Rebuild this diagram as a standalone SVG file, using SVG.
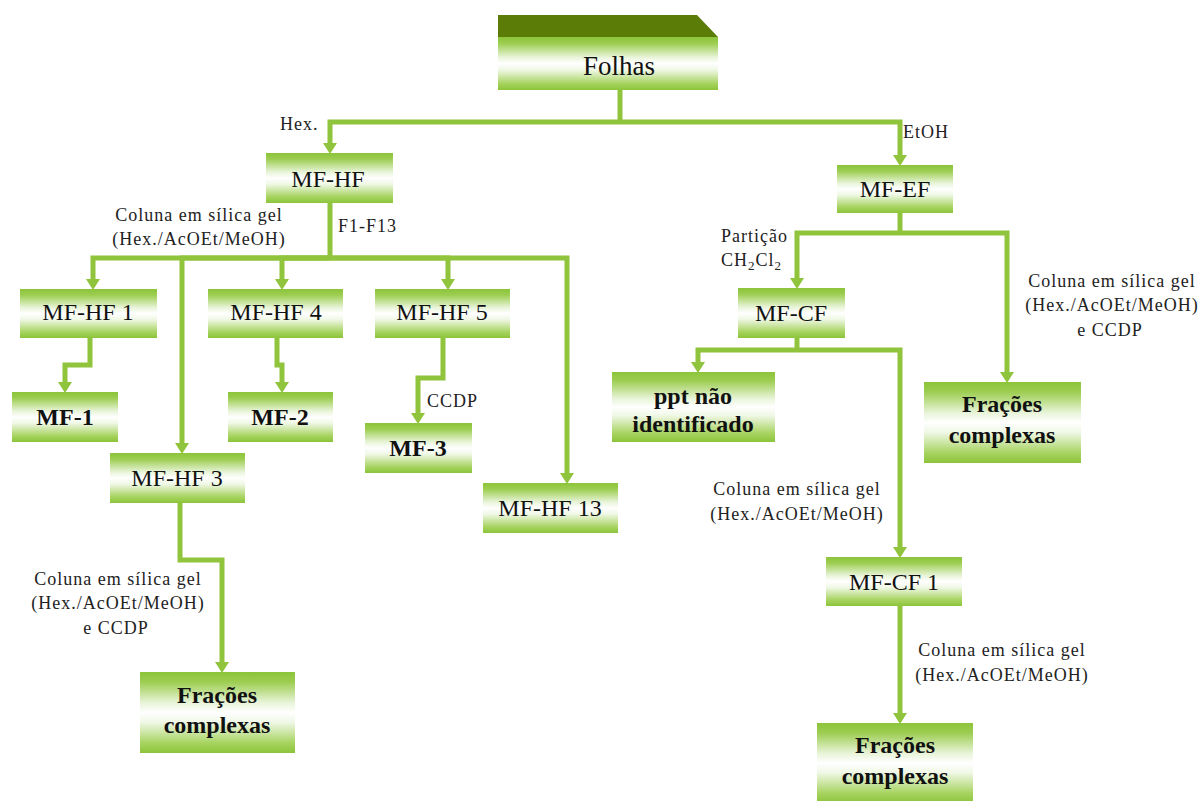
<svg xmlns="http://www.w3.org/2000/svg" width="1200" height="801" viewBox="0 0 1200 801">
<defs>
<linearGradient id="g" x1="0" y1="0" x2="0" y2="1">
<stop offset="0" stop-color="#8cc43a"/>
<stop offset="0.12" stop-color="#9ccd50"/>
<stop offset="0.38" stop-color="#e8f4d8"/>
<stop offset="0.5" stop-color="#ffffff"/>
<stop offset="0.62" stop-color="#f0f8e6"/>
<stop offset="0.88" stop-color="#a6d35f"/>
<stop offset="1" stop-color="#8cc43a"/>
</linearGradient>
<marker id="ah" markerUnits="userSpaceOnUse" viewBox="0 0 11 14" markerWidth="11" markerHeight="14" refX="0" refY="7" orient="auto">
<path d="M0,0 L11,7 L0,14 z" fill="#8fc43c"/>
</marker>
<style>
.ln{fill:none;stroke:#8fc43c;stroke-width:5;stroke-linejoin:miter}
.ar{marker-end:url(#ah)}
.box{fill:url(#g)}
.t{font-family:"Liberation Serif","Times New Roman",serif;font-size:24px;fill:#111;text-anchor:middle}
.b{font-weight:bold}
.lb{font-family:"Liberation Serif","Times New Roman",serif;font-size:18px;letter-spacing:1px;fill:#222}
.m{text-anchor:middle}
</style>
</defs>
<rect width="1200" height="801" fill="#ffffff"/>

<g id="connectors">
<path class="ln" d="M620,90 V122"/>
<path class="ln ar" d="M620,122 H330 V143"/>
<path class="ln ar" d="M620,122 H900 V155"/>
<path class="ln" d="M330,203 V258"/>
<path class="ln ar" d="M330,258 H93 V279"/>
<path class="ln ar" d="M330,258 H182 V443"/>
<path class="ln ar" d="M330,258 H282 V279"/>
<path class="ln ar" d="M330,258 H448 V279"/>
<path class="ln ar" d="M330,258 H567 V473"/>
<path class="ln ar" d="M90,338 V365 H65 V382"/>
<path class="ln ar" d="M277,338 V365 H282 V382"/>
<path class="ln ar" d="M443,338 V378 H418 V413"/>
<path class="ln ar" d="M180,503 V560 H222 V662"/>
<path class="ln" d="M900,213 V233"/>
<path class="ln ar" d="M900,233 H797 V278"/>
<path class="ln ar" d="M900,233 H1007 V372"/>
<path class="ln" d="M797,338 V350"/>
<path class="ln ar" d="M797,350 H698 V362"/>
<path class="ln ar" d="M797,350 H900 V547"/>
<path class="ln ar" d="M900,606 V713"/>
</g>

<g id="folhas">
<path d="M498,15 H697 L718,37 H498 Z" fill="#5c7c08"/>
<rect class="box" x="498" y="37" width="220" height="53"/>
<text class="t" x="619" y="75" style="font-size:27px">Folhas</text>
</g>

<g id="mf-hf"><rect class="box" x="266" y="153" width="127" height="50"/><text class="t" x="328" y="187">MF-HF</text></g>
<g id="mf-ef"><rect class="box" x="837" y="165" width="116" height="48"/><text class="t" x="895" y="197">MF-EF</text></g>
<g id="mf-hf1"><rect class="box" x="20" y="289" width="137" height="49"/><text class="t" x="88" y="320">MF-HF 1</text></g>
<g id="mf-hf4"><rect class="box" x="208" y="289" width="135" height="49"/><text class="t" x="276" y="320">MF-HF 4</text></g>
<g id="mf-hf5"><rect class="box" x="375" y="289" width="135" height="49"/><text class="t" x="442" y="320">MF-HF 5</text></g>
<g id="mf-1"><rect class="box" x="12" y="392" width="106" height="50"/><text class="t b" x="65" y="425">MF-1</text></g>
<g id="mf-2"><rect class="box" x="228" y="392" width="105" height="50"/><text class="t b" x="280" y="425">MF-2</text></g>
<g id="mf-3"><rect class="box" x="365" y="423" width="107" height="50"/><text class="t b" x="418" y="456">MF-3</text></g>
<g id="mf-hf3"><rect class="box" x="110" y="453" width="135" height="50"/><text class="t" x="177" y="486">MF-HF 3</text></g>
<g id="mf-hf13"><rect class="box" x="483" y="483" width="135" height="50"/><text class="t" x="550" y="516">MF-HF 13</text></g>
<g id="fracoes-left"><rect class="box" x="140" y="672" width="155" height="81"/><text class="t b" x="217" y="703">Frações</text><text class="t b" x="217" y="733">complexas</text></g>
<g id="mf-cf"><rect class="box" x="738" y="288" width="107" height="50"/><text class="t" x="791" y="321">MF-CF</text></g>
<g id="ppt"><rect class="box" x="612" y="372" width="163" height="70"/><text class="t b" x="693" y="404">ppt não</text><text class="t b" x="693" y="432">identificado</text></g>
<g id="fracoes-right"><rect class="box" x="924" y="382" width="157" height="81"/><text class="t b" x="1002" y="412">Frações</text><text class="t b" x="1002" y="443">complexas</text></g>
<g id="mf-cf1"><rect class="box" x="826" y="557" width="136" height="49"/><text class="t" x="894" y="590">MF-CF 1</text></g>
<g id="fracoes-bottom"><rect class="box" x="817" y="723" width="156" height="80"/><text class="t b" x="895" y="753">Frações</text><text class="t b" x="895" y="784">complexas</text></g>

<g id="labels">
<text class="lb" x="280" y="130">Hex.</text>
<text class="lb" x="903" y="138">EtOH</text>
<text class="lb" x="338" y="232">F1-F13</text>
<text class="lb m" x="199" y="221">Coluna em sílica gel</text>
<text class="lb m" x="199" y="245">(Hex./AcOEt/MeOH)</text>
<text class="lb" x="427" y="407">CCDP</text>
<text class="lb m" x="118" y="585">Coluna em sílica gel</text>
<text class="lb m" x="118" y="609">(Hex./AcOEt/MeOH)</text>
<text class="lb m" x="116" y="634">e CCDP</text>
<text class="lb" x="721" y="242">Partição</text>
<text class="lb" x="721" y="266">CH<tspan dy="4" font-size="13">2</tspan><tspan dy="-4">Cl</tspan><tspan dy="4" font-size="13">2</tspan></text>
<text class="lb m" x="1112" y="287">Coluna em sílica gel</text>
<text class="lb m" x="1112" y="311">(Hex./AcOEt/MeOH)</text>
<text class="lb m" x="1110" y="336">e CCDP</text>
<text class="lb m" x="797" y="495">Coluna em sílica gel</text>
<text class="lb m" x="797" y="520">(Hex./AcOEt/MeOH)</text>
<text class="lb m" x="1002" y="656">Coluna em sílica gel</text>
<text class="lb m" x="1002" y="681">(Hex./AcOEt/MeOH)</text>
</g>
</svg>
